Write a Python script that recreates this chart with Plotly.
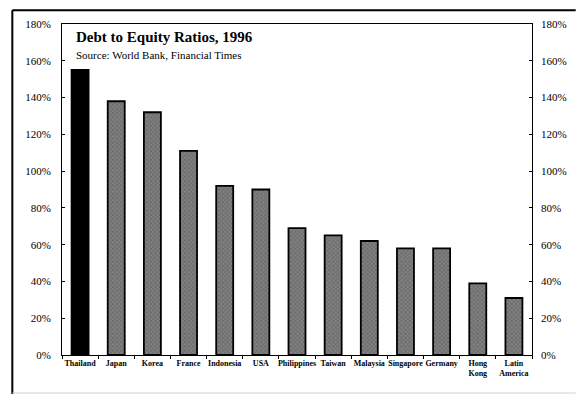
import plotly.graph_objects as go

countries = ["Thailand", "Japan", "Korea", "France", "Indonesia", "USA", "Philippines",
             "Taiwan", "Malaysia", "Singapore", "Germany", "Hong<br>Kong", "Latin<br>America"]
ratios = [155, 138, 132, 111, 92, 90, 69, 65, 62, 58, 58, 39, 31]
y_ticks = [0, 20, 40, 60, 80, 100, 120, 140, 160, 180]
y_tick_text = [f"{v}%" for v in y_ticks]

serif = "Liberation Serif"

fill = ["#000000"] + ["#808080"] * (len(countries) - 1)
pattern_shape = [""] + ["x"] * (len(countries) - 1)

fig = go.Figure()
fig.add_trace(go.Bar(
    x=countries, y=ratios,
    marker=dict(
        color=fill,
        line=dict(color="#000000", width=1.8),
        pattern=dict(shape=pattern_shape, fgcolor="#2a2a2a", bgcolor="#a8a8a8",
                     size=3, solidity=0.4, fillmode="overlay"),
    ),
    hoverinfo="x+y",
))
# invisible trace to drive the right-hand axis
fig.add_trace(go.Bar(x=countries, y=ratios, yaxis="y2", opacity=0,
                     hoverinfo="skip", showlegend=False))

axis_font = dict(family=serif, size=11, color="#000000")

fig.update_layout(
    width=579, height=394,
    margin=dict(l=62, r=44, t=24, b=39),
    paper_bgcolor="#ffffff", plot_bgcolor="#ffffff",
    showlegend=False, bargap=0.53, barmode="overlay",
    xaxis=dict(
        showline=True, linecolor="#000000", linewidth=1, mirror=True,
        ticks="outside", tickson="boundaries", ticklen=3, tickcolor="#000000",
        tickfont=dict(family=serif, size=8, color="#000000"),
        showgrid=False, tickangle=0,
        tickvals=countries, ticktext=[f"<b>{c}</b>" for c in countries],
    ),
    yaxis=dict(
        range=[0, 180], tickvals=y_ticks, ticktext=y_tick_text,
        showline=True, linecolor="#000000", linewidth=1, mirror=True,
        ticks="inside", ticklen=3, tickcolor="#000000",
        tickfont=axis_font, showgrid=False, zeroline=False,
        ticklabelstandoff=8,
    ),
    yaxis2=dict(
        range=[0, 180], tickvals=y_ticks, ticktext=y_tick_text,
        overlaying="y", side="right", showline=False,
        ticks="inside", ticklen=3, tickcolor="#000000",
        tickfont=axis_font, showgrid=False, zeroline=False,
        ticklabelstandoff=8,
    ),
    annotations=[
        dict(text="<b>Debt to Equity Ratios, 1996</b>", xref="paper", yref="paper",
             x=0.025, y=0.93, xanchor="left", yanchor="bottom", showarrow=False,
             font=dict(family=serif, size=15, color="#000000")),
        dict(text="Source: World Bank, Financial Times", xref="paper", yref="paper",
             x=0.025, y=0.93, xanchor="left", yanchor="top", showarrow=False,
             font=dict(family=serif, size=11, color="#000000")),
    ],
    shapes=[
        # outer frame: left and top edges, faint bottom rule
        dict(type="line", xref="paper", yref="paper", x0=-0.1057, x1=-0.1057,
             y0=1.0417, y1=-0.1178, line=dict(color="#000000", width=2)),
        dict(type="line", xref="paper", yref="paper", x0=-0.1057, x1=1.093,
             y0=1.0417, y1=1.0417, line=dict(color="#000000", width=2)),
        dict(type="line", xref="paper", yref="paper", x0=-0.1057, x1=1.093,
             y0=-0.1148, y1=-0.1148, line=dict(color="#d0d0d0", width=1)),
    ],
)

fig.write_html("out.html")
